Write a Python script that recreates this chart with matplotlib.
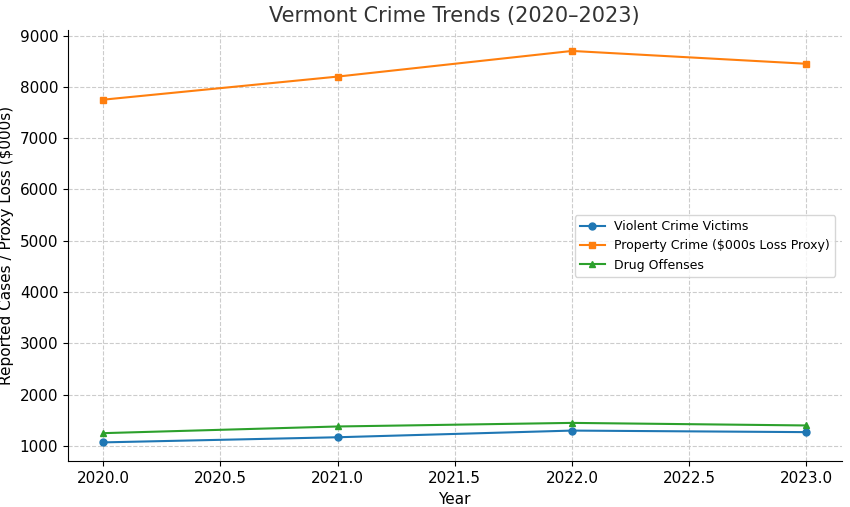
import matplotlib
matplotlib.use('Agg')
from matplotlib import pyplot as plt

# 資料
YEARS = [2020, 2021, 2022, 2023]
VIOLENT = [1070, 1170, 1300, 1270]
PROPERTY = [7750, 8200, 8700, 8450]
DRUG = [1250, 1380, 1450, 1400]


def main():
    fig = plt.figure(figsize=(8.5, 5.07), dpi=100)
    ax = fig.add_axes([0.08, 0.09, 0.91, 0.85])
    ax.plot(YEARS, VIOLENT, marker='o', markersize=5, color='#1f77b4', label='Violent Crime Victims')
    ax.plot(YEARS, PROPERTY, marker='s', markersize=5, color='#ff7f0e', label='Property Crime ($000s Loss Proxy)')
    ax.plot(YEARS, DRUG, marker='^', markersize=5, color='#2ca02c', label='Drug Offenses')
    ax.set_title('Vermont Crime Trends (2020–2023)', fontsize=15, color='#333333')
    ax.set_xlabel('Year', fontsize=11)
    ax.set_ylabel('Reported Cases / Proxy Loss ($000s)', fontsize=11)
    ax.set_ylim(700, 9100)
    ax.set_xticks([2020, 2020.5, 2021, 2021.5, 2022, 2022.5, 2023])
    ax.set_xticklabels(['2020.0', '2020.5', '2021.0', '2021.5', '2022.0', '2022.5', '2023.0'])
    ax.tick_params(labelsize=11)
    ax.grid(True, linestyle='--', color='#cccccc', linewidth=0.8)
    for s in ['top', 'right']:
        ax.spines[s].set_visible(False)
    ax.legend(loc='center right', fontsize=9)
    fig.savefig('out.png')


if __name__ == '__main__':
    main()
